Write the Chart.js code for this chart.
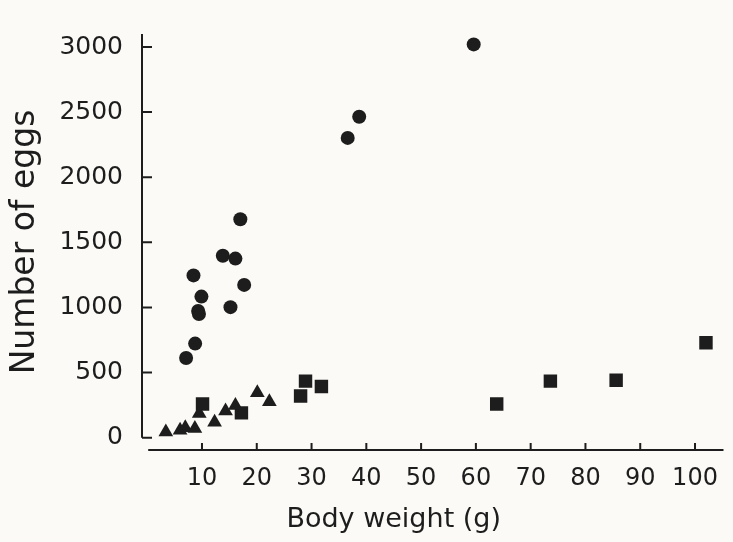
<!DOCTYPE html>
<html>
<head>
<meta charset="utf-8">
<title>Number of eggs vs body weight</title>
<script src="https://cdn.jsdelivr.net/npm/chart.js@4/dist/chart.umd.min.js"></script>
<style>
  html, body { margin: 0; padding: 0; background: #fbfaf6; }
  #chart { display: block; }
</style>
</head>
<body>
<canvas id="chart" width="733" height="542"></canvas>
<script>
// circles (upper group)
const circleWeight = [7.1, 8.75, 8.45, 9.3, 9.45, 9.9, 13.8, 15.2, 16.1, 17.0, 17.7, 36.6, 38.7, 59.6];
const circleEggs   = [612, 722, 1246, 973, 949, 1083, 1397, 1002, 1375, 1677, 1173, 2302, 2465, 3020];

// triangles
const triWeight = [3.4, 6.0, 6.95, 8.7, 9.5, 12.3, 14.3, 16.1, 20.1, 22.3];
const triEggs   = [44, 56, 75, 71, 185, 119, 205, 246, 344, 276];

// squares
const sqWeight = [10.1, 17.2, 28.0, 28.9, 31.8, 63.8, 73.6, 85.6, 102];
const sqEggs   = [258, 190, 320, 434, 393, 258, 434, 441, 729];

const xTicks = [10, 20, 30, 40, 50, 60, 70, 80, 90, 100];
const yTicks = [0, 500, 1000, 1500, 2000, 2500, 3000];

const xTitle = 'Body weight (g)';
const yTitle = 'Number of eggs';

const ink = '#1d1d1d';
const font = "'DejaVu Sans', sans-serif";

function toPoints(xs, ys) {
    return xs.map((x, i) => ({ x: x, y: ys[i] }));
}

// hand-drawn style axes: ticks point inward, x axis sits a bit below zero
const axesPlugin = {
    id: 'axesPlugin',
    afterDraw(chart) {
        const ctx = chart.ctx;
        const xs = chart.scales.x;
        const ys = chart.scales.y;
        const area = chart.chartArea;
        const y0 = ys.getPixelForValue(0);
        ctx.save();
        ctx.strokeStyle = ink;
        ctx.lineWidth = 2;
        ctx.beginPath();
        // y axis
        ctx.moveTo(area.left, area.top);
        ctx.lineTo(area.left, y0);
        yTicks.forEach(v => {
            const p = ys.getPixelForValue(v);
            ctx.moveTo(area.left, p);
            ctx.lineTo(area.left + 10, p);
        });
        // x axis
        const xStart = xs.getPixelForValue(0) + 1;
        ctx.moveTo(xStart, area.bottom);
        ctx.lineTo(area.right, area.bottom);
        xTicks.forEach(v => {
            const p = xs.getPixelForValue(v);
            ctx.moveTo(p, area.bottom);
            ctx.lineTo(p, area.bottom - 7);
        });
        ctx.stroke();

        // x axis title
        ctx.fillStyle = ink;
        ctx.font = '27px ' + font;
        ctx.textAlign = 'center';
        ctx.textBaseline = 'middle';
        ctx.fillText(xTitle, xs.getPixelForValue(45), 520);
        ctx.restore();
    }
};

const ctx = document.getElementById('chart').getContext('2d');
const chart = new Chart(ctx, {
    type: 'scatter',
    data: {
        datasets: [
            {
                label: 'circles',
                data: toPoints(circleWeight, circleEggs),
                pointStyle: 'circle',
                pointRadius: 7,
                backgroundColor: ink,
                borderColor: ink,
                borderWidth: 0
            },
            {
                label: 'triangles',
                data: toPoints(triWeight, triEggs),
                pointStyle: 'triangle',
                pointRadius: 8.5,
                backgroundColor: ink,
                borderColor: ink,
                borderWidth: 0
            },
            {
                label: 'squares',
                data: toPoints(sqWeight, sqEggs),
                pointStyle: 'rect',
                pointRadius: 9.5,
                backgroundColor: ink,
                borderColor: ink,
                borderWidth: 0
            }
        ]
    },
    options: {
        responsive: false,
        animation: false,
        layout: { padding: { top: 13, right: 0, left: 0, bottom: 0 } },
        plugins: {
            legend: { display: false },
            tooltip: { enabled: false }
        },
        scales: {
            x: {
                type: 'linear',
                min: -0.95,
                max: 105.2,
                grid: { display: false, drawTicks: false },
                border: { display: false },
                afterBuildTicks: scale => { scale.ticks = xTicks.map(v => ({ value: v })); },
                afterFit: scale => { scale.height = 92; },
                ticks: {
                    color: ink,
                    padding: 14,
                    maxRotation: 0,
                    font: { family: font, size: 24 }
                }
            },
            y: {
                type: 'linear',
                min: -95,
                max: 3100,
                grid: { display: false, drawTicks: false },
                border: { display: false },
                afterBuildTicks: scale => { scale.ticks = yTicks.map(v => ({ value: v })); },
                afterFit: scale => { scale.width = 142; },
                ticks: {
                    color: ink,
                    padding: 19,
                    font: { family: font, size: 25 },
                    callback: value => String(value)
                },
                title: {
                    display: true,
                    text: yTitle,
                    color: ink,
                    padding: { top: 6, bottom: 0 },
                    font: { family: font, size: 33 }
                }
            }
        }
    },
    plugins: [axesPlugin]
});
</script>
</body>
</html>
